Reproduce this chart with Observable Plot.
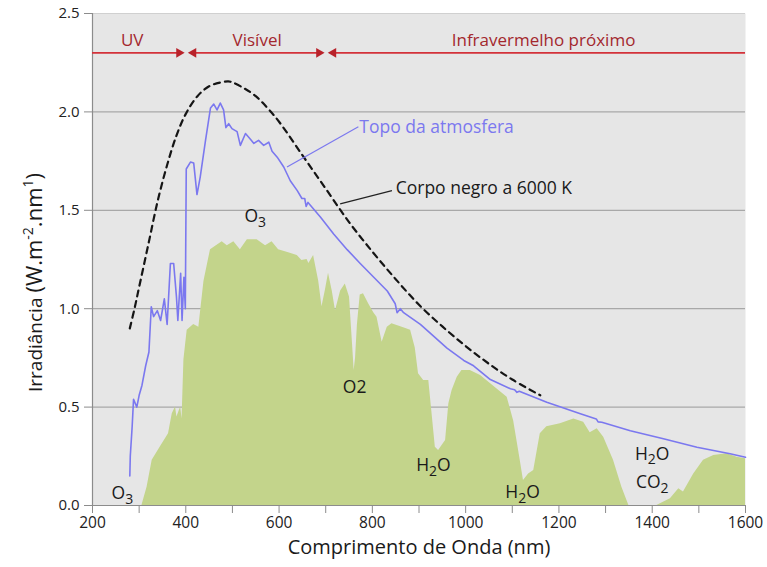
<!DOCTYPE html>
<html>
<head>
<meta charset="utf-8">
<script src="https://cdn.jsdelivr.net/npm/d3@7"></script>
<script src="https://cdn.jsdelivr.net/npm/@observablehq/plot@0.6"></script>
<style>
  html, body { margin: 0; padding: 0; background: #ffffff; }
  #chart { width: 767px; height: 567px; }
</style>
</head>
<body>
<div id="chart"></div>
<script>
// ---- Data ----
// Top of atmosphere irradiance (blue line)
const toaNm = [280,281,285,288,295,300,306,314,321,326,331,339,346,354,360,367,374,380,383,389,392,396,399,401,410,417,424,431,442,453,460,467,474,481,486,492,499,510,517,528,539,546,556,567,578,585,596,610,624,639,649,655,658,662,689,717,746,774,803,832,849,853,860,867,903,960,996,1017,1053,1096,1105,1110,1115,1174,1246,1280,1284,1292,1353,1424,1496,1567,1600];
const toaVal = [0.15,0.25,0.40,0.54,0.50,0.56,0.61,0.71,0.78,1.01,0.96,0.99,0.94,1.05,0.92,1.23,1.23,1.06,0.94,1.18,0.94,1.16,1.00,1.71,1.745,1.74,1.58,1.67,1.85,2.02,2.04,2.01,2.045,2.01,1.92,1.94,1.915,1.90,1.83,1.89,1.86,1.84,1.855,1.83,1.846,1.80,1.77,1.72,1.65,1.60,1.56,1.56,1.52,1.54,1.465,1.38,1.30,1.23,1.16,1.09,1.025,0.98,1.00,0.98,0.92,0.80,0.737,0.71,0.64,0.593,0.588,0.575,0.58,0.525,0.466,0.44,0.425,0.423,0.38,0.339,0.296,0.263,0.245];

// Surface irradiance (green area)
const sfcNm = [306,317,328,346,363,371,378,381,389,392,396,403,417,428,439,453,478,489,503,517,532,553,571,585,599,617,639,649,660,664,674,685,692,699,706,714,721,732,742,751,758,761,764,768,774,781,792,803,810,821,832,842,864,882,892,899,910,921,928,935,942,957,964,971,982,992,1010,1032,1053,1089,1103,1117,1124,1135,1146,1160,1174,1203,1232,1253,1267,1282,1296,1317,1335,1350,1410,1439,1457,1467,1489,1510,1532,1560,1582,1600];
const sfcVal = [0,0.093,0.23,0.30,0.364,0.466,0.50,0.45,0.50,0.44,0.74,0.89,0.92,0.906,1.14,1.30,1.34,1.32,1.34,1.30,1.35,1.35,1.32,1.34,1.30,1.287,1.27,1.245,1.25,1.23,1.27,1.14,1.01,1.09,1.18,1.09,0.99,1.09,1.126,1.06,0.80,0.686,0.75,0.92,1.07,1.076,1.025,0.98,0.957,0.83,0.906,0.923,0.906,0.89,0.80,0.67,0.635,0.635,0.466,0.296,0.28,0.33,0.517,0.584,0.652,0.686,0.686,0.66,0.62,0.55,0.43,0.23,0.127,0.16,0.178,0.364,0.40,0.415,0.44,0.423,0.37,0.39,0.347,0.23,0.093,0,0,0.034,0.085,0.068,0.16,0.23,0.254,0.263,0.245,0.237];

// Black body at 6000 K (dashed line)
const bbNm  = [280,290,300,320,340,360,380,400,425,450,475,491,500,525,550,575,600,650,700,750,800,850,900,950,1000,1050,1100,1160];
const bbVal = [0.90,1.00,1.11,1.33,1.55,1.73,1.88,1.99,2.08,2.13,2.15,2.155,2.15,2.12,2.08,2.02,1.95,1.78,1.61,1.44,1.29,1.15,1.02,0.91,0.81,0.72,0.64,0.56];

// Spectral bands (red arrows)
const bandNames  = ["UV", "Visível", "Infravermelho próximo"];
const bandStart  = [200, 410, 710];
const bandEnd    = [392, 692, 1600];
const bandLabelX = [285, 553, 1167];
const bandY = 2.3;
const bandLabelY = 2.365;

// Axis ticks
const yTicks = [0, 0.5, 1.0, 1.5, 2.0, 2.5];
const gridY = [0.5, 1.0, 1.5, 2.0];
const xTicks = d3.range(200, 1601, 100);

// Absorption labels
const chemLabels = ["O{_3}", "O2", "H{_2}O", "H{_2}O", "H{_2}O", "CO{_2}", "O{_3}"];
const chemX = [549, 762, 931, 1122, 1400, 1400, 264];
const chemY = [1.47, 0.60, 0.203, 0.066, 0.262, 0.118, 0.06];

// Curve annotations
const noteText = ["Topo da atmosfera", "Corpo negro a 6000 K"];
const noteX = [772, 850];
const noteY = [1.92, 1.61];
const leaderX1 = [770, 842];
const leaderY1 = [1.925, 1.60];
const leaderX2 = [617, 731];
const leaderY2 = [1.72, 1.533];

// Axis titles
const xTitle = "Comprimento de Onda (nm)";
const yTitle = "Irradiância (W.m{^-2}.nm{^1})";

// ---- Build tables ----
const toa = toaNm.map((x, i) => ({x, y: toaVal[i]}));
const sfc = sfcNm.map((x, i) => ({x, y: sfcVal[i]}));
const bb = bbNm.map((x, i) => ({x, y: bbVal[i]}));
const bands = bandNames.map((name, i) => ({name, x1: bandStart[i], x2: bandEnd[i], lx: bandLabelX[i]}));
const headsRight = [{x: 392}, {x: 692}];
const headsLeft = [{x: 410}, {x: 710}];
const chems = chemLabels.map((t, i) => ({t, x: chemX[i], y: chemY[i]}));
const notes = noteText.map((t, i) => ({t, x: noteX[i], y: noteY[i], x1: leaderX1[i], y1: leaderY1[i], x2: leaderX2[i], y2: leaderY2[i]}));

const red = "#d3323a";
const redText = "#a3282e";
const blue = "#7b78ef";
const font = "'Open Sans', Lato, sans-serif";

const plot = Plot.plot({
  width: 767,
  height: 567,
  marginLeft: 92,
  marginRight: 22,
  marginTop: 13,
  marginBottom: 62,
  x: {domain: [200, 1600]},
  y: {domain: [0, 2.5]},
  style: {fontFamily: font, background: "#ffffff", color: "#222"},
  marks: [
    Plot.frame({fill: "#e6e6e6", stroke: null}),
    Plot.ruleY(gridY, {stroke: "#a8a8a8", strokeWidth: 1.2}),
    Plot.ruleY([2.5], {stroke: "#d0d0d0", strokeWidth: 1}),
    Plot.areaY(sfc, {x: "x", y: "y", fill: "#c3d48b", curve: "linear"}),
    Plot.line(bb, {x: "x", y: "y", stroke: "#151515", strokeWidth: 2.2, strokeDasharray: "6,5", curve: "catmull-rom"}),
    Plot.line(toa, {x: "x", y: "y", stroke: blue, strokeWidth: 1.6, curve: "linear"}),
    Plot.ruleX([200], {stroke: "#8c8c8c", strokeWidth: 1.2}),
    Plot.ruleY([0], {stroke: "#8c8c8c", strokeWidth: 1.2}),
    Plot.axisY({ticks: yTicks, tickFormat: d3.format(".1f"), tickSize: 8, tickPadding: 5, stroke: "#8c8c8c", fontSize: 15, label: null}),
    Plot.axisX({ticks: xTicks, tickFormat: d => (d % 200 === 0 ? String(d) : ""), tickSize: 8, tickPadding: 3, stroke: "#8c8c8c", fontSize: 15.5, label: null}),
    // bands
    Plot.ruleY(bands, {x1: "x1", x2: "x2", y: bandY, stroke: red, strokeWidth: 1.6}),
    Plot.dot(headsRight, {x: "x", y: bandY, symbol: "triangle", rotate: 90, r: 3.6, fill: "#b8222a", stroke: null, dx: -3}),
    Plot.dot(headsLeft, {x: "x", y: bandY, symbol: "triangle", rotate: -90, r: 3.6, fill: "#b8222a", stroke: null, dx: 3}),
    Plot.text(bands, {x: "lx", y: bandLabelY, text: "name", fill: redText, fontSize: 17}),
    // annotations
    Plot.link(notes, {x1: "x1", y1: "y1", x2: "x2", y2: "y2", stroke: (d, i) => (i === 0 ? blue : "#222"), strokeWidth: 1.2}),
    Plot.text(notes, {x: "x", y: "y", text: "t", textAnchor: "start", fill: (d, i) => (i === 0 ? blue : "#1a1a1a"), fontSize: 17.5}),
    Plot.text(chems, {x: "x", y: "y", text: "t", fill: "#1a1a1a", fontSize: 17.5}),
    // axis titles
    Plot.text([xTitle], {frameAnchor: "bottom", dy: 48, text: d => d, fontSize: 20, fill: "#1a1a1a", textAnchor: "middle"}),
    Plot.text([yTitle], {frameAnchor: "left", dx: -57, dy: 23, rotate: -90, text: d => d, fontSize: 19, fill: "#1a1a1a", textAnchor: "middle"})
  ]
});

// Turn {_x} / {^x} markers into sub/superscript tspans
const ns = "http://www.w3.org/2000/svg";
d3.select(plot).selectAll("text").each(function () {
  const el = this;
  const s = el.textContent;
  if (!/\{[_^]/.test(s)) return;
  const isYTitle = s === yTitle;
  while (el.firstChild) el.removeChild(el.firstChild);
  const add = (txt, dy, size) => {
    const t = document.createElementNS(ns, "tspan");
    t.textContent = txt;
    if (dy) t.setAttribute("dy", dy);
    if (size) t.setAttribute("font-size", size);
    el.appendChild(t);
    return t;
  };
  const re = /\{([_^])([^}]*)\}/g;
  let last = 0, m, pendingReset = null;
  const bigSize = isYTitle ? "22px" : null;
  let first = true;
  while ((m = re.exec(s)) !== null) {
    if (m.index > last) {
      const seg = s.slice(last, m.index);
      if (first && isYTitle) {
        const k = seg.indexOf("(");
        add(seg.slice(0, k), null, null);
        add(seg.slice(k), null, bigSize);
      } else {
        add(seg, pendingReset, bigSize);
      }
      pendingReset = null;
      first = false;
    }
    if (m[1] === "_") { add(m[2], "0.35em", "0.8em"); pendingReset = "-0.28em"; }
    else { add(m[2], isYTitle ? "-9px" : "-0.55em", isYTitle ? "14px" : "0.72em"); pendingReset = isYTitle ? "9px" : "0.4em"; }
    last = re.lastIndex;
  }
  if (last < s.length) add(s.slice(last), pendingReset, bigSize);
});

document.getElementById("chart").appendChild(plot);
</script>
</body>
</html>
